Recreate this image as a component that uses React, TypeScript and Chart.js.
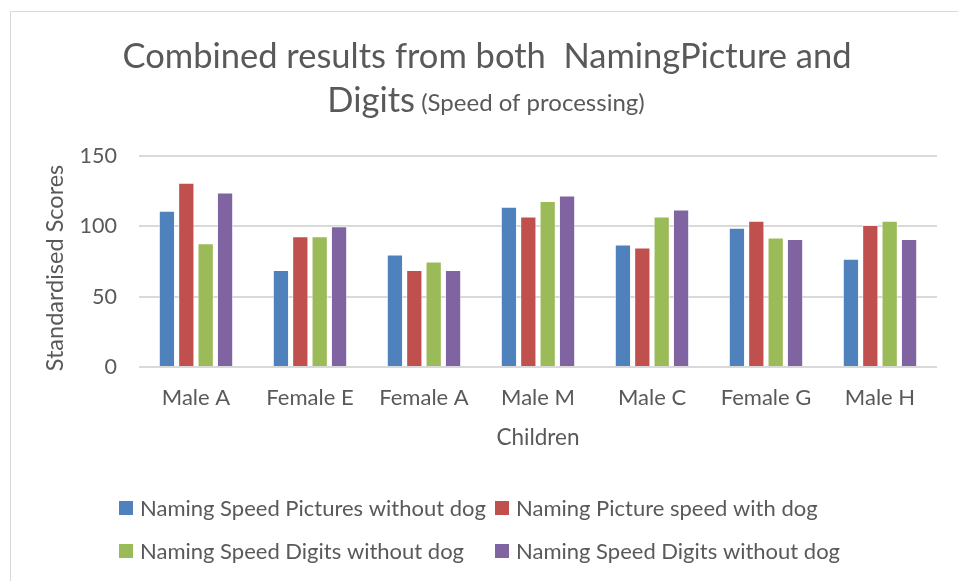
import React, { useEffect, useRef } from 'react';
import { Chart, registerables } from 'chart.js';

Chart.register(...registerables);

const categories = ['Male A', 'Female E', 'Female A', 'Male M', 'Male C', 'Female G', 'Male H'];
const seriesLabels = [
  'Naming Speed Pictures without dog',
  'Naming Picture speed with dog',
  'Naming Speed Digits without dog',
  'Naming Speed Digits without dog',
];
const picturesWithoutDog = [111, 69, 80, 114, 87, 99, 77];
const picturesWithDog = [131, 93, 69, 107, 85, 104, 101];
const digitsWithoutDog = [88, 93, 75, 118, 107, 92, 104];
const digitsWithoutDogB = [124, 100, 69, 122, 112, 91, 91];
const seriesColors = ['#4F81BD', '#C0504D', '#9BBB59', '#8064A2'];
const yMin = 0;
const yMax = 150;
const yStep = 50;
const titleLine1 = 'Combined results from both  NamingPicture and';
const titleLine2Main = 'Digits';
const titleLine2Sub = ' (Speed of processing)';
const xAxisTitle = 'Children';
const yAxisTitle = 'Standardised Scores';

const FONT = 'Lato, "Open Sans", sans-serif';
const TEXT = '#595959';

const customText = {
  id: 'customText',
  afterDraw(chart: any) {
    const ctx = chart.ctx;
    ctx.save();
    ctx.fillStyle = TEXT;
    ctx.textBaseline = 'middle';
    // Title
    ctx.font = `400 34.5px ${FONT}`;
    ctx.textAlign = 'center';
    ctx.fillText(titleLine1, 487, 57);
    const wMain = ctx.measureText(titleLine2Main).width;
    ctx.font = `400 24px ${FONT}`;
    const wSub = ctx.measureText(titleLine2Sub).width;
    const startX = 486 - (wMain + wSub) / 2;
    ctx.textAlign = 'left';
    ctx.font = `400 34.5px ${FONT}`;
    ctx.fillText(titleLine2Main, startX, 101);
    ctx.font = `400 24px ${FONT}`;
    ctx.fillText(titleLine2Sub, startX + wMain, 103);

    // Y axis title
    ctx.save();
    ctx.translate(55, 268);
    ctx.rotate(-Math.PI / 2);
    ctx.textAlign = 'center';
    ctx.font = `23.5px ${FONT}`;
    ctx.fillText(yAxisTitle, 0, 0);
    ctx.restore();

    // Legend
    const cols = [119, 495];
    const rows = [508, 551];
    ctx.font = `22px ${FONT}`;
    ctx.textAlign = 'left';
    chart.data.datasets.forEach((ds: any, i: number) => {
      const x = cols[i % 2];
      const y = rows[Math.floor(i / 2)];
      ctx.fillStyle = ds.backgroundColor;
      ctx.fillRect(x, y - 7, 14, 14);
      ctx.fillStyle = TEXT;
      ctx.fillText(ds.label, x + 21, y + 1);
    });
    ctx.restore();
  },
};

export default function App() {
  const ref = useRef<HTMLCanvasElement>(null);
  useEffect(() => {
    if (!ref.current) return;
    const data = [picturesWithoutDog, picturesWithDog, digitsWithoutDog, digitsWithoutDogB];
    const chart = new Chart(ref.current, {
      type: 'bar',
      data: {
        labels: categories,
        datasets: data.map((d, i) => ({
          label: seriesLabels[i],
          data: d,
          backgroundColor: seriesColors[i],
          borderColor: 'rgba(255,255,255,0.6)',
          borderWidth: 1,
          categoryPercentage: 0.68,
          barPercentage: 0.84,
        })),
      },
      options: {
        responsive: false,
        animation: false,
        layout: { padding: { left: 10, right: 21, top: 156, bottom: 124 } },
        plugins: {
          legend: { display: false },
          title: { display: false },
          tooltip: { enabled: false },
        },
        scales: {
          x: {
            grid: { display: false, drawTicks: false },
            border: { display: false },
            ticks: { color: TEXT, font: { family: FONT, size: 22 }, padding: 18 },
            title: {
              display: true,
              text: xAxisTitle,
              color: TEXT,
              font: { family: FONT, size: 22.5 },
              padding: { top: 0, bottom: 6 },
            },
            afterFit: (s: any) => {
              s.height = 90;
            },
          },
          y: {
            min: yMin,
            max: yMax,
            ticks: { stepSize: yStep, color: TEXT, font: { family: FONT, size: 21.5 }, padding: 22 },
            grid: { color: '#d9d9d9', lineWidth: 2, drawTicks: false },
            border: { display: false },
            afterFit: (s: any) => {
              s.width = 129;
            },
          },
        },
      },
      plugins: [customText],
    });
    return () => chart.destroy();
  }, []);
  return (
    <div style={{ position: 'fixed', left: 0, top: 0, width: 958, height: 581, background: '#fff' }}>
      <div
        style={{
          position: 'absolute',
          left: 10,
          top: 11,
          width: 960,
          height: 600,
          borderLeft: '1px solid #d9d9d9',
          borderTop: '1px solid #d9d9d9',
        }}
      />
      <canvas ref={ref} width={958} height={581} style={{ position: 'absolute', left: 0, top: 0 }} />
    </div>
  );
}
